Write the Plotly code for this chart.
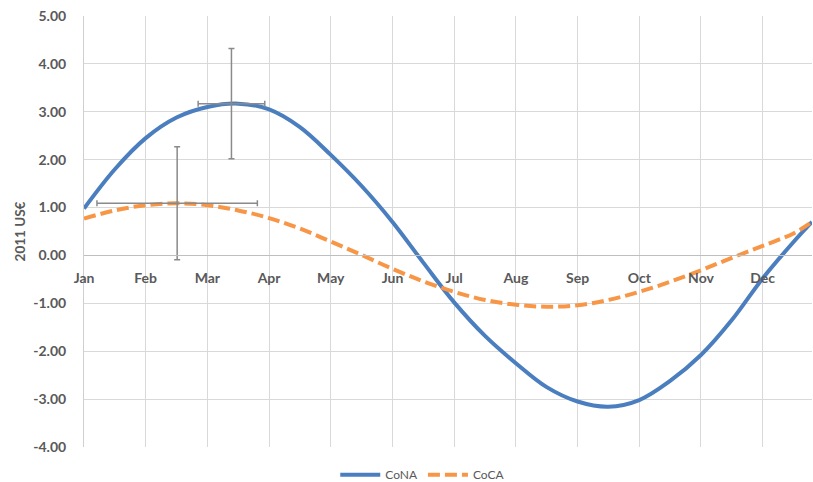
import plotly.graph_objects as go

# month positions (month index, 0 = Jan)
t = [0, 0.5, 1, 1.5, 2, 2.5, 3, 3.5, 4, 4.5, 5, 5.5, 6, 6.5, 7, 7.5, 8, 8.5, 9, 9.5, 10, 10.5, 11, 11.5, 11.8]
cona = [0.98, 1.80, 2.45, 2.88, 3.10, 3.17, 3.05, 2.68, 2.10, 1.45, 0.70, -0.15, -0.98, -1.68, -2.25, -2.75,
        -3.05, -3.16, -3.02, -2.62, -2.08, -1.35, -0.48, 0.28, 0.70]
coca = [0.77, 0.94, 1.05, 1.09, 1.05, 0.94, 0.78, 0.56, 0.29, 0.01, -0.28, -0.54, -0.76, -0.93, -1.03, -1.07,
        -1.04, -0.93, -0.76, -0.55, -0.31, -0.05, 0.20, 0.46, 0.70]

month_vals = list(range(12))
month_labels = ["Jan", "Feb", "Mar", "Apr", "May", "Jun", "Jul", "Aug", "Sep", "Oct", "Nov", "Dec"]

# error bar points (x, y, x-error, y-error)
err_x = [2.39, 1.51]
err_y = [3.17, 1.09]
err_dx = [0.54, 1.30]
err_dy = [1.15, 1.18]

y_ticks = [5, 4, 3, 2, 1, 0, -1, -2, -3, -4]
y_labels = ["5.00", "4.00", "3.00", "2.00", "1.00", "0.00", "-1.00", "-2.00", "-3.00", "-4.00"]

BLUE = "#4a7ebf"
ORANGE = "#f79646"
GRAY_TXT = "#595959"
ERR = "#8a8a8a"
FONT = "Lato"

fig = go.Figure()
fig.add_trace(go.Scatter(x=t, y=cona, mode="lines", name="CoNA",
                         line=dict(color=BLUE, width=4, shape="spline")))
fig.add_trace(go.Scatter(x=t, y=coca, mode="lines", name="CoCA",
                         line=dict(color=ORANGE, width=4, shape="spline", dash="12px,5px")))
fig.add_trace(go.Scatter(x=err_x, y=err_y, mode="markers", showlegend=False, hoverinfo="skip",
                         marker=dict(size=1, color="rgba(0,0,0,0)"),
                         error_x=dict(type="data", array=err_dx, color=ERR, thickness=1.5, width=3),
                         error_y=dict(type="data", array=err_dy, color=ERR, thickness=1.5, width=3)))

fig.update_layout(
    width=813, height=482,
    margin=dict(l=84, r=1, t=16, b=35, autoexpand=False),
    paper_bgcolor="white", plot_bgcolor="white",
    font=dict(family=FONT, color=GRAY_TXT),
    legend=dict(orientation="h", xref="container", yref="container", x=0.52, y=0.015,
                xanchor="center", yanchor="middle", font=dict(size=12, color=GRAY_TXT),
                itemwidth=40, tracegroupgap=0),
)
fig.update_xaxes(range=[0, 11.8], tickmode="array", tickvals=month_vals, ticktext=month_labels,
                 showgrid=True, gridcolor="#d9d9d9", gridwidth=1, automargin=False,
                 anchor="free", position=4 / 9, showline=True, linecolor="#bfbfbf", linewidth=1,
                 zeroline=False, ticks="", ticklabelstandoff=10,
                 tickfont=dict(size=14, color=GRAY_TXT, family=FONT, weight="bold"))
fig.update_yaxes(range=[-4.0005, 5.0005], tickmode="array", tickvals=y_ticks, ticktext=y_labels,
                 showgrid=True, gridcolor="#d9d9d9", gridwidth=1, zeroline=False, automargin=False,
                 showline=True, linecolor="#d0d0d0", ticks="", ticklabelstandoff=14,
                 tickfont=dict(size=14, color=GRAY_TXT, family=FONT, weight="bold"),
                 title=dict(text="2011 US€", standoff=4,
                            font=dict(size=13.5, color=GRAY_TXT, family=FONT, weight="bold")))

fig.write_html("out.html", config={"displayModeBar": False},
               post_script="document.body.style.margin='0px';document.body.style.overflow='hidden';")
